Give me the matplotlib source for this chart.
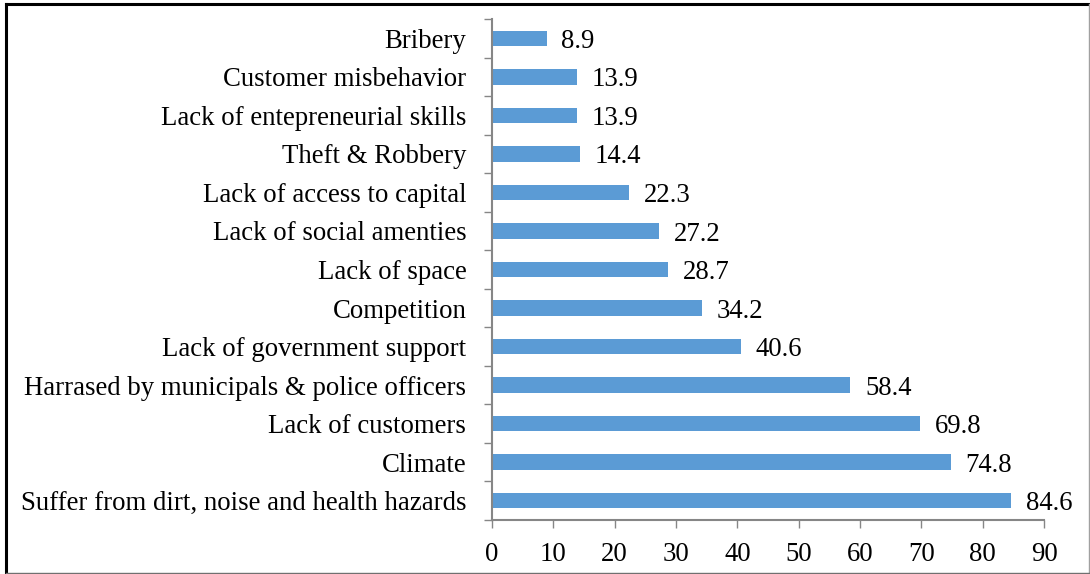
import matplotlib.pyplot as plt
from matplotlib.lines import Line2D
import numpy as np

plt.rcParams['font.family'] = ['Liberation Serif', 'DejaVu Serif']

# Dados (de cima para baixo no gráfico)
categorias = ['Bribery', 'Customer misbehavior', 'Lack of entepreneurial skills',
              'Theft & Robbery', 'Lack of access to capital', 'Lack of social amenties',
              'Lack of space', 'Competition', 'Lack of government support',
              'Harrased by municipals & police officers', 'Lack of customers',
              'Climate', 'Suffer from dirt, noise and health hazards']
valores = [8.9, 13.9, 13.9, 14.4, 22.3, 27.2, 28.7, 34.2, 40.6, 58.4, 69.8, 74.8, 84.6]
ticks_x = [0, 10, 20, 30, 40, 50, 60, 70, 80, 90]

W, H = 1090, 574
fig = plt.figure(figsize=(W / 100, H / 100), dpi=100)
ax = fig.add_axes([492 / W, 1 - 520 / H, (1044 - 492) / W, (520 - 19) / H])

fs = 19.3
y = np.arange(len(categorias))
ax.barh(y, valores, height=0.4, color='#5B9BD5')
for yi, v in zip(y, valores):
    ax.text(v + 2.4, yi + 0.08, f'{v:.1f}', va='center', ha='left', fontsize=fs)

ax.set_xlim(0, 90)
ax.set_ylim(len(categorias) - 0.5, -0.5)
ax.set_xticks(ticks_x)
ax.set_yticks(y)
ax.set_yticklabels(categorias)
ax.set_yticks(np.arange(-0.5, len(categorias)), minor=True)

for s in ['top', 'right']:
    ax.spines[s].set_visible(False)
for s in ['left', 'bottom']:
    ax.spines[s].set_color('#868686')
    ax.spines[s].set_linewidth(1.5)

ax.tick_params(axis='x', colors='#868686', labelcolor='black', labelsize=fs,
               length=6, width=1, pad=10)
ax.tick_params(axis='y', which='major', length=0, labelsize=fs, pad=18.5)
ax.tick_params(axis='y', which='minor', colors='#868686', length=6, width=1)

# Moldura da figura
fig.add_artist(Line2D([6 / W, 6 / W], [0, 1 - 4 / H], color='black', lw=2.2))
fig.add_artist(Line2D([6 / W, 1], [1 - 4 / H, 1 - 4 / H], color='black', lw=2.2))
fig.add_artist(Line2D([1089 / W, 1089 / W], [1 / H, 1 - 4 / H], color='#a0a0a0', lw=1))
fig.add_artist(Line2D([6 / W, 1], [1.2 / H, 1.2 / H], color='#707070', lw=1))

fig.savefig('out.png', dpi=100)
